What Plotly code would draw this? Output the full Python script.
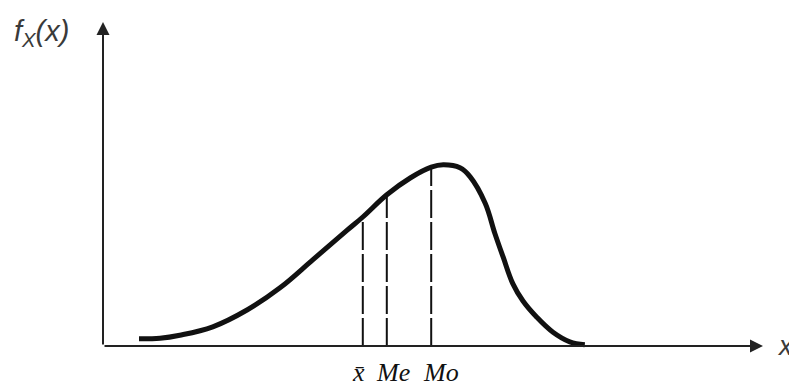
import plotly.graph_objects as go

# skewed density curve (x in arbitrary units, origin at the axis corner)
x_vals = [0.60, 0.95, 1.28, 1.83, 2.40, 2.95, 3.50, 4.07, 4.33, 4.73, 5.12, 5.47,
          5.67, 5.95, 6.12, 6.37, 6.53, 6.67, 6.83, 7.00, 7.23, 7.50, 7.78, 8.03]
f_vals = [0.12, 0.13, 0.18, 0.32, 0.60, 0.97, 1.44, 1.93, 2.15, 2.52, 2.80, 2.98,
          3.02, 2.97, 2.82, 2.38, 1.88, 1.48, 1.04, 0.75, 0.48, 0.23, 0.07, 0.02]

# mean, median, mode markers
stat_labels = ["x̄", "Me", "Mo"]
stat_x = [4.33, 4.73, 5.47]
stat_f = [2.15, 2.52, 2.98]
label_x = [4.26, 4.83, 5.63]

x_tip = 11.0
y_tip = 5.4

fig = go.Figure()

for sx, sf in zip(stat_x, stat_f):
    fig.add_trace(go.Scatter(x=[sx, sx], y=[0, sf], mode="lines",
                             line=dict(color="#111", width=2, dash="28px,4px"),
                             hoverinfo="skip"))

fig.add_trace(go.Scatter(x=x_vals, y=f_vals, mode="lines",
                         line=dict(color="#111", width=5, shape="spline", smoothing=1.1),
                         hoverinfo="skip"))

# axes with arrows
fig.add_annotation(x=x_tip, y=0, ax=0, ay=0, xref="x", yref="y", axref="x", ayref="y",
                   text="", showarrow=True, arrowhead=2, arrowsize=1.3, arrowwidth=2,
                   arrowcolor="#222")
fig.add_annotation(x=0, y=y_tip, ax=0, ay=0, xref="x", yref="y", axref="x", ayref="y",
                   text="", showarrow=True, arrowhead=2, arrowsize=1.3, arrowwidth=2,
                   arrowcolor="#222")

fig.add_annotation(x=-1.03, y=5.22, xref="x", yref="y", showarrow=False,
                   text="<i>f<sub>X</sub>(x)</i>",
                   font=dict(family="Liberation Sans", size=29, color="#3a3a3a"))
fig.add_annotation(x=11.37, y=0.0, xref="x", yref="y", showarrow=False,
                   text="<i>x</i>",
                   font=dict(family="Liberation Sans", size=27, color="#3a3a3a"))

# labels sit on the bottom edge so their boxes are not clipped
for lab, lx in zip(stat_labels, label_x):
    fig.add_annotation(x=lx, y=-0.70, xref="x", yref="y", yanchor="bottom",
                       showarrow=False, borderpad=0,
                       text="<i>" + lab + "</i>",
                       font=dict(family="Liberation Serif", size=26, color="#111"))

# page body has an 8px margin, so the figure is 8px smaller on each side
fig.update_layout(
    width=789, height=381,
    margin=dict(l=0, r=0, t=0, b=0),
    plot_bgcolor="white", paper_bgcolor="white",
    showlegend=False,
    xaxis=dict(range=[-95 / 60, 694 / 60], visible=False, fixedrange=True),
    yaxis=dict(range=[-43 / 60, 338 / 60], visible=False, fixedrange=True),
)

fig.write_html("out.html")
